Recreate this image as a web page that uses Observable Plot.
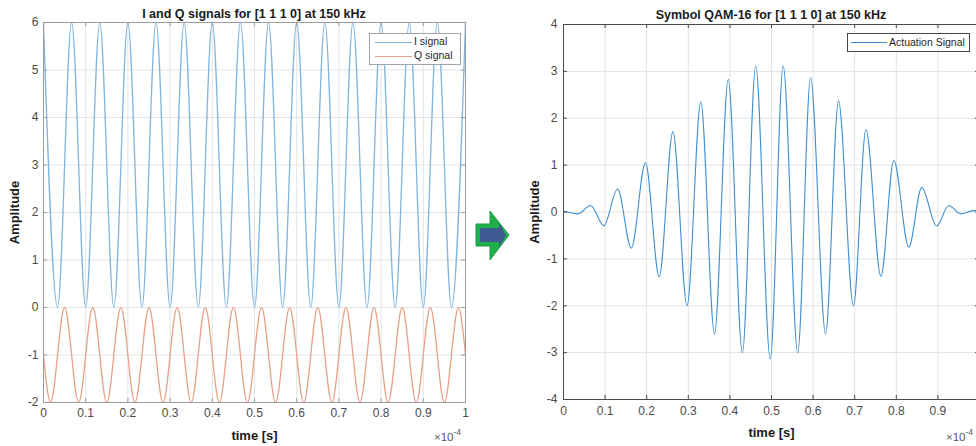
<!DOCTYPE html>
<html>
<head>
<meta charset="utf-8">
<script src="https://cdn.jsdelivr.net/npm/d3@7"></script>
<script src="https://cdn.jsdelivr.net/npm/@observablehq/plot@0.6"></script>
<style>
html, body { margin: 0; padding: 0; background: #fff; overflow: hidden; }
#root { position: relative; width: 976px; height: 446px; overflow: hidden; font-family: "Liberation Sans", Arial, sans-serif; background: #fff; }
.panel { position: absolute; top: 0; height: 446px; }
.panel svg { max-width: none !important; }
.title { position: absolute; font-weight: bold; font-size: 12.5px; line-height: 1; color: #1a1a1a; white-space: nowrap; transform: translateX(-50%); }
.expo { position: absolute; font-size: 11.5px; line-height: 1; color: #555; white-space: nowrap; }
.expo sup { font-size: 8.5px; position: relative; top: -1px; }
.legend { position: absolute; background: #fff; font-size: 10.5px; color: #262626; }
.legend .sw { position: absolute; height: 0; }
.legend .lab { position: absolute; white-space: nowrap; line-height: 1; }
svg g[aria-label$="axis label"] text { font-weight: bold; font-size: 13px; fill: #1a1a1a; }
#arrow { position: absolute; left: 470px; top: 200px; }
</style>
</head>
<body>
<div id="root">
  <div class="panel" id="leftPanel" style="left:0px; width:480px"></div>
  <div class="panel" id="rightPanel" style="left:500px; width:490px"></div>
  <div class="title" style="left:254px; top:8px">I and Q signals for [1 1 1 0] at 150 kHz</div>
  <div class="title" style="left:771px; top:9px">Symbol QAM-16 for [1 1 1 0] at 150 kHz</div>
  <div class="expo" style="left:434px; top:429px">×10<sup>-4</sup></div>
  <div class="expo" style="left:946px; top:429px">×10<sup>-4</sup></div>
  <div class="legend" style="left:369px; top:33px; width:90px; height:30px; border:1px solid #a5a5a5;">
    <div class="sw" style="left:5px; top:8px; width:37px; border-top:1.3px solid #80b5de;"></div>
    <div class="lab" style="left:44px; top:2px;">I signal</div>
    <div class="sw" style="left:5px; top:22px; width:37px; border-top:1.3px solid #e8a189;"></div>
    <div class="lab" style="left:44px; top:16px;">Q signal</div>
  </div>
  <div class="legend" style="left:847px; top:33px; width:121px; height:17px; border:1px solid #444;">
    <div class="sw" style="left:3px; top:8px; width:36px; border-top:1px solid #3d8fd1;"></div>
    <div class="lab" style="left:41px; top:3px;">Actuation Signal</div>
  </div>
  <svg id="arrow" width="45" height="70" viewBox="0 0 45 70">
    <polygon points="6,24 20,24 20,11 39,35 20,60 20,46 6,46" fill="#1fb04c" stroke="#16a043" stroke-width="1"/>
    <polygon points="10,28 29,28 29,23 36,35 29,47 29,42 10,42" fill="#3d5a92"/>
  </svg>
</div>
<script>
// ---- data (time in units of 1e-4 s) ----
const xTicks = [0, 0.1, 0.2, 0.3, 0.4, 0.5, 0.6, 0.7, 0.8, 0.9, 1];
const xTickLabelsRight = [0, 0.1, 0.2, 0.3, 0.4, 0.5, 0.6, 0.7, 0.8, 0.9]; // "1" falls outside the picture
const yTicksIQ = [-2, -1, 0, 1, 2, 3, 4, 5, 6];
const yTicksAct = [-4, -3, -2, -1, 0, 1, 2, 3, 4];

// I signal extrema
const iTime = [0, 0.0333, 0.0667, 0.1, 0.1333, 0.1667, 0.2, 0.2333, 0.2667, 0.3, 0.3333,
  0.3667, 0.4, 0.4333, 0.4667, 0.5, 0.5333, 0.5667, 0.6, 0.6333, 0.6667,
  0.7, 0.7333, 0.7667, 0.8, 0.8333, 0.8667, 0.9, 0.9333, 0.9667, 1];
const iValue = [6, 0, 6, 0, 6, 0, 6, 0, 6, 0, 6,
  0, 6, 0, 6, 0, 6, 0, 6, 0, 6,
  0, 6, 0, 6, 0, 6, 0, 6, 0, 6];

// Q signal extrema
const qTime = [0, 0.0167, 0.05, 0.0833, 0.1167, 0.15, 0.1833, 0.2167, 0.25, 0.2833, 0.3167,
  0.35, 0.3833, 0.4167, 0.45, 0.4833, 0.5167, 0.55, 0.5833, 0.6167, 0.65,
  0.6833, 0.7167, 0.75, 0.7833, 0.8167, 0.85, 0.8833, 0.9167, 0.95, 0.9833, 1];
const qValue = [-1, -2, 0, -2, 0, -2, 0, -2, 0, -2, 0,
  -2, 0, -2, 0, -2, 0, -2, 0, -2, 0,
  -2, 0, -2, 0, -2, 0, -2, 0, -2, 0, -1];

// Actuation signal extrema
const actTime = [0, 0.035, 0.065, 0.097, 0.130, 0.163, 0.197, 0.230, 0.263, 0.297, 0.330,
  0.363, 0.396, 0.430, 0.462, 0.497, 0.528, 0.563, 0.594, 0.630, 0.661,
  0.697, 0.727, 0.763, 0.794, 0.830, 0.861, 0.897, 0.926, 0.955, 0.985, 1];
const actValue = [0.02, -0.04, 0.14, -0.29, 0.49, -0.77, 1.05, -1.38, 1.71, -2.0, 2.35,
  -2.6, 2.83, -3.0, 3.12, -3.14, 3.12, -3.0, 2.87, -2.6, 2.37,
  -2.0, 1.76, -1.37, 1.10, -0.75, 0.52, -0.3, 0.14, -0.04, 0.03, 0.02];

const iData = iTime.map((t, i) => ({t, v: iValue[i]}));
const qData = qTime.map((t, i) => ({t, v: qValue[i]}));
const actData = actTime.map((t, i) => ({t, v: actValue[i]}));

const font = "'Liberation Sans', Arial, sans-serif";
const fmt = d => String(d);

// ---- left panel ----
{
  const W = 480, H = 446, mL = 43, mR = 15, mT = 22, mB = 44;
  const fw = W - mL - mR, fh = H - mT - mB, tk = 4, axc = "#9c9c9c";
  const p = Plot.plot({
    width: W, height: H,
    marginLeft: mL, marginRight: mR, marginTop: mT, marginBottom: mB,
    style: {background: "transparent", fontFamily: font, fontSize: "12px", color: "#4a4a4a", overflow: "visible", maxWidth: "none"},
    x: {domain: [0, 1], ticks: xTicks, tickFormat: fmt, tickSize: 0, tickPadding: 6,
        label: "time [s]", labelAnchor: "center", labelArrow: "none", labelOffset: 37},
    y: {domain: [-2, 6], ticks: yTicksIQ, tickFormat: fmt, tickSize: 0, tickPadding: 5,
        label: "Amplitude", labelAnchor: "center", labelArrow: "none", labelOffset: 34},
    marks: [
      Plot.gridX(xTicks, {stroke: "#e4e4e4", strokeOpacity: 1}),
      Plot.gridY(yTicksIQ, {stroke: "#e4e4e4", strokeOpacity: 1}),
      Plot.line(iData, {x: "t", y: "v", curve: "monotone-x", stroke: "#80b5de", strokeWidth: 1.3}),
      Plot.line(qData, {x: "t", y: "v", curve: "monotone-x", stroke: "#e8a189", strokeWidth: 1.3}),
      Plot.tickX(xTicks, {x: d => d, insetTop: fh - tk, stroke: axc}),
      Plot.tickX(xTicks, {x: d => d, insetBottom: fh - tk, stroke: axc}),
      Plot.tickY(yTicksIQ, {y: d => d, insetRight: fw - tk, stroke: axc}),
      Plot.tickY(yTicksIQ, {y: d => d, insetLeft: fw - tk, stroke: axc}),
      Plot.frame({stroke: axc})
    ]
  });
  document.getElementById("leftPanel").appendChild(p);
}

// ---- right panel ----
{
  const W = 490, H = 446, mL = 63, mR = 11, mT = 24, mB = 47;
  const fw = W - mL - mR, fh = H - mT - mB, tk = 4, axc = "#4a4a4a";
  const p = Plot.plot({
    width: W, height: H,
    marginLeft: mL, marginRight: mR, marginTop: mT, marginBottom: mB,
    style: {background: "transparent", fontFamily: font, fontSize: "12px", color: "#4a4a4a", overflow: "visible", maxWidth: "none"},
    x: {domain: [0, 1], ticks: xTickLabelsRight, tickFormat: fmt, tickSize: 0, tickPadding: 7,
        label: "time [s]", labelAnchor: "center", labelArrow: "none", labelOffset: 37},
    y: {domain: [-4, 4], ticks: yTicksAct, tickFormat: fmt, tickSize: 0, tickPadding: 6,
        label: "Amplitude", labelAnchor: "center", labelArrow: "none", labelOffset: 34},
    marks: [
      Plot.gridX(xTicks, {stroke: "#e2e2e2", strokeOpacity: 1}),
      Plot.gridY(yTicksAct, {stroke: "#e2e2e2", strokeOpacity: 1}),
      Plot.line(actData, {x: "t", y: "v", curve: "monotone-x", stroke: "#3d8fd1", strokeWidth: 1.1}),
      Plot.tickX(xTicks, {x: d => d, insetTop: fh - tk, stroke: axc}),
      Plot.tickX(xTicks, {x: d => d, insetBottom: fh - tk, stroke: axc}),
      Plot.tickY(yTicksAct, {y: d => d, insetRight: fw - tk, stroke: axc}),
      Plot.tickY(yTicksAct, {y: d => d, insetLeft: fw - tk, stroke: axc}),
      Plot.frame({stroke: axc})
    ]
  });
  document.getElementById("rightPanel").appendChild(p);
}
</script>
</body>
</html>
